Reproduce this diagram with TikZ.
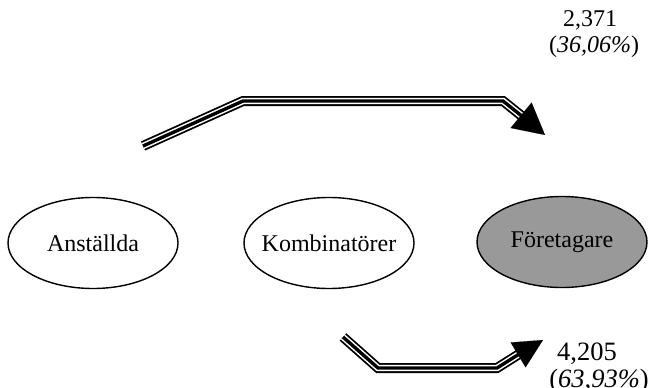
\documentclass[tikz,border=0pt]{standalone}
\usepackage{fontspec}
\setmainfont{Liberation Serif}
\usetikzlibrary{shapes.geometric,arrows.meta}
\definecolor{fillgray}{HTML}{999999}
\tikzset{
  oval/.style={ellipse, draw=black, line width=1.4pt, minimum width=170pt, minimum height=91pt, inner xsep=-12pt, inner ysep=0pt, font=\fontsize{24}{28}\selectfont},
  lbl/.style={inner sep=0pt, font=\fontsize{24}{28}\selectfont},
  lblbig/.style={inner sep=0pt, font=\fontsize{26.5}{30}\selectfont},
  outer/.style={line width=10pt, black, line join=miter},
  middle/.style={line width=6.4pt, white, line join=miter},
  inner/.style={line width=3.4pt, black, line join=miter},
}
\begin{document}
\begin{tikzpicture}[x=1pt,y=-1pt]
\useasboundingbox (0,0) rectangle (651,388);
\node[oval] (a) at (93,243) {Anställda};
\node[oval] (k) at (329,243) {Kombinatörer};
\node[oval, fill=fillgray] (f) at (562,242) {Företagare};

\node[lbl] (t1) at (590,20) {2,371};
\node[lbl] (t2) at (594,47) {(\textit{36,06\%})};
\node[lblbig] (b1) at (587,354) {4,205};
\node[lblbig] (b2) at (599,381) {(\textit{63,93\%})};

% top arrow
\coordinate (ts) at (143,146);
\coordinate (tb1) at (243,101);
\coordinate (tb2) at (503,101);
\coordinate (tbase) at (522,116);
\coordinate (tend) at (528,121);
\coordinate (ttip) at (545,135);
\foreach \s in {outer,middle,inner}
  \draw[\s] (ts) -- (tb1) -- (tb2) -- (tend);
\draw[line width=0.1pt, -{Triangle[length=31pt,width=33pt]}] (tbase) -- (ttip);

% bottom arrow
\coordinate (bs) at (343,337);
\coordinate (bb1) at (378,368);
\coordinate (bb2) at (497,368);
\coordinate (bbase) at (518,355);
\coordinate (bend) at (524,351);
\coordinate (btip) at (543,340);
\foreach \s in {outer,middle,inner}
  \draw[\s] (bs) -- (bb1) -- (bb2) -- (bend);
\draw[line width=0.1pt, -{Triangle[length=29pt,width=29pt]}] (bbase) -- (btip);
\end{tikzpicture}
\end{document}
